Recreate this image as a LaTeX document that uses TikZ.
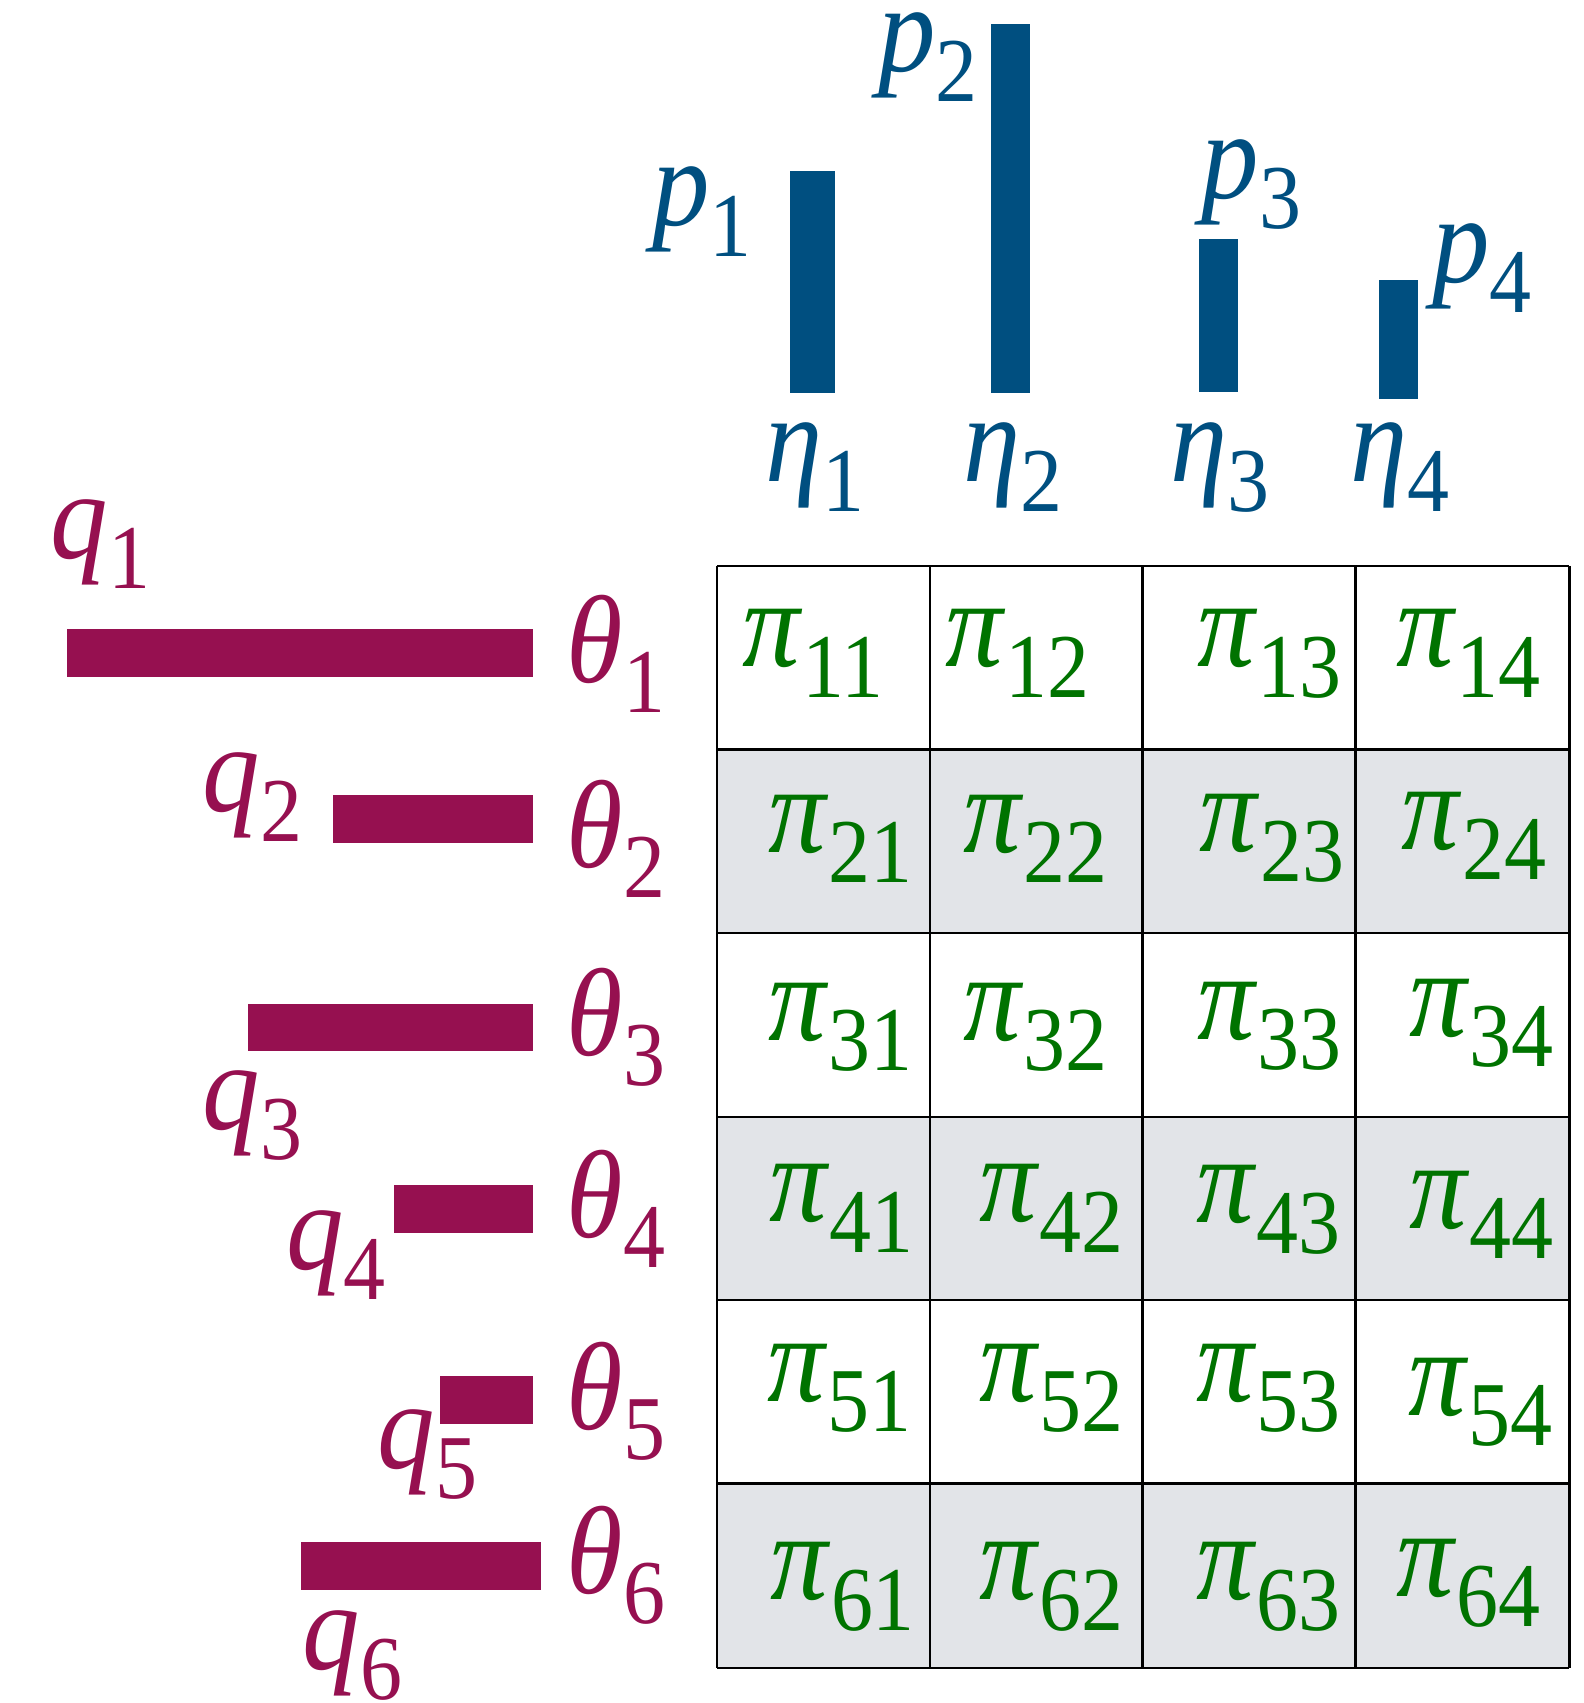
\documentclass[tikz,border=0pt]{standalone}
\usepackage{fontspec}
\setmainfont{Liberation Serif}[FakeStretch=0.92]
\usepackage{xcolor}
\usepackage{tikz}
\usetikzlibrary{positioning}
\definecolor{myblue}{RGB}{0,79,128}
\definecolor{mymag}{RGB}{150,16,80}
\definecolor{mygreen}{RGB}{0,115,0}
\definecolor{hdrgray}{RGB}{226,228,232}
\newcommand{\sublbl}[2]{\textit{#1}\raisebox{-7.9pt}{\fontsize{23.9}{26}\selectfont #2}}
\tikzset{
  lbl/.style={anchor=base west, inner sep=0pt, font=\fontsize{32.7}{36}\selectfont},
  bluelbl/.style={lbl, text=myblue},
  maglbl/.style={lbl, text=mymag},
  greenlbl/.style={lbl, text=mygreen},
  cellline/.style={line width=0.6pt, color=black}
}

\begin{document}
\begin{tikzpicture}[x=0.01cm, y=-0.01cm]
  \useasboundingbox (0,0) rectangle (1458,1568);

  % Column bars (p)
  \foreach \xa/\ya/\xb/\yb in {727/157/769/362, 912/22/948/362, 1104/220/1140/361, 1270/258/1306/367}
    \fill[myblue] (\xa,\ya) rectangle (\xb,\yb);

  % Row bars (q)
  \foreach \xa/\ya/\xb/\yb in {62/579/491/623, 307/732/491/776, 228/924/491/968, 363/1091/491/1135, 405/1267/491/1311, 277/1420/498/1464}
    \fill[mymag] (\xa,\ya) rectangle (\xb,\yb);

  % Column labels
  \foreach \i/\x/\y in {1/600/208, 2/808/66, 3/1106/183, 4/1318/260}
    \node[bluelbl] (p\i) at (\x,\y) {\sublbl{p}{\i}};
  \foreach \i/\x in {1/704, 2/886, 3/1077, 4/1243}
    \node[bluelbl] (eta\i) at (\x,443) {\sublbl{η}{\i}};

  % Row labels
  \foreach \i/\x/\y in {1/46/514, 2/186/747, 3/186/1040, 4/263/1169, 5/347/1352, 6/278/1537}
    \node[maglbl] (q\i) at (\x,\y) {\sublbl{q}{\i}};
  \foreach \i/\y in {1/628, 2/799, 3/972, 4/1139, 5/1316, 6/1467}
    \node[maglbl] (th\i) at (521,\y) {\sublbl{θ}{\i}};

  % Table
  \foreach \ya/\yb in {690/859, 1028.5/1197, 1366/1535.5}
    \fill[hdrgray] (660,\ya) rectangle (1445,\yb);
  \foreach \x in {660,856,1052,1248,1445}
    \draw[cellline] (\x,521) -- (\x,1535.5);
  \foreach \y in {521,690,859,1028.5,1197,1366,1535.5}
    \draw[cellline] (660,\y) -- (1445,\y);

  \foreach \r/\c/\x/\y in {1/1/683/614, 1/2/870/614, 1/3/1102/614, 1/4/1285/614,
      2/1/707/785, 2/2/886/785, 2/3/1104/784, 2/4/1290/782,
      3/1/707/958, 3/2/886/958, 3/3/1102/957, 3/4/1297/954,
      4/1/708/1125, 4/2/901/1125, 4/3/1101/1126, 4/4/1297/1131,
      5/1/706/1290, 5/2/901/1290, 5/3/1101/1290, 5/4/1296/1303,
      6/1/709/1473, 6/2/901/1473, 6/3/1101/1473, 6/4/1285/1470}
    \node[greenlbl] (pi\r\c) at (\x,\y) {\sublbl{π}{\r\c}};

\end{tikzpicture}
\end{document}
